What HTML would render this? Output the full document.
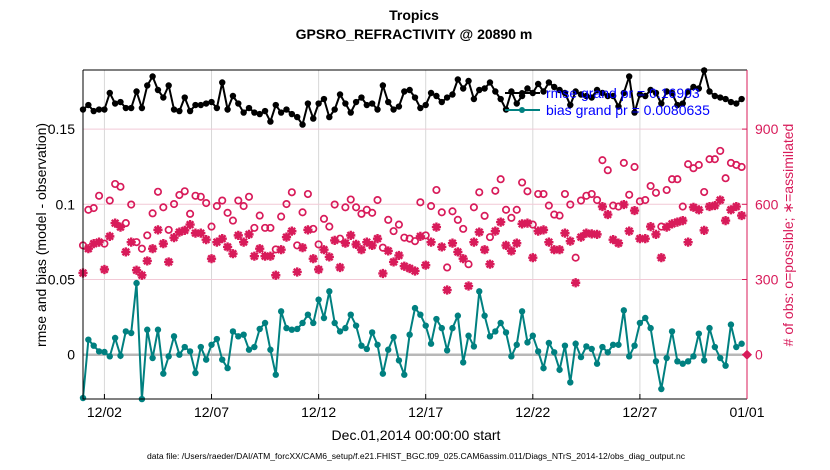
<!DOCTYPE html>
<html><head><meta charset="utf-8"><style>
body{margin:0;background:#fff;}
svg{display:block;font-family:"Liberation Sans",sans-serif;}
</style></head><body>
<svg id="chart" width="830" height="470" viewBox="0 0 830 470" xmlns="http://www.w3.org/2000/svg">
<text x="414" y="20" text-anchor="middle" font-weight="bold" font-size="14">Tropics</text>
<text x="414" y="39" text-anchor="middle" font-weight="bold" font-size="14">GPSRO_REFRACTIVITY @ 20890 m</text>
<g id="grid"></g>
<g id="marks"></g>
<g id="axes"></g>
<text transform="translate(46,235) rotate(-90)" text-anchor="middle" font-size="14">rmse and bias (model - observation)</text>
<text transform="translate(793,235) rotate(-90)" text-anchor="middle" font-size="14" fill="#d81b5a"># of obs: o=possible; ∗=assimilated</text>
<text x="416" y="440" text-anchor="middle" font-size="14">Dec.01,2014 00:00:00 start</text>
<text x="416" y="459" text-anchor="middle" font-size="8.6" textLength="538" lengthAdjust="spacingAndGlyphs">data file: /Users/raeder/DAI/ATM_forcXX/CAM6_setup/f.e21.FHIST_BGC.f09_025.CAM6assim.011/Diags_NTrS_2014-12/obs_diag_output.nc</text>
<g>
<line x1="505" y1="93" x2="540" y2="93" stroke="#000" stroke-width="2"/>
<circle cx="522" cy="93" r="3" fill="#000"/>
<line x1="505" y1="110" x2="540" y2="110" stroke="#008080" stroke-width="2"/>
<circle cx="522" cy="110" r="3" fill="#008080"/>
<text x="546" y="98" font-size="14" fill="#0000ff">rmse grand pr = 0.16903</text>
<text x="546" y="115" font-size="14" fill="#0000ff">bias grand pr = 0.0080635</text>
</g>
</svg>
<script>
const rmse=[0.163,0.166,0.162,0.163,0.163,0.174,0.167,0.168,0.164,0.164,0.175,0.164,0.179,0.185,0.176,0.171,0.179,0.163,0.162,0.171,0.162,0.166,0.166,0.167,0.168,0.164,0.181,0.163,0.172,0.167,0.161,0.164,0.161,0.160,0.162,0.155,0.166,0.161,0.163,0.160,
0.158,0.153,0.167,0.157,0.167,0.170,0.158,0.163,0.173,0.167,0.161,0.168,0.171,0.166,0.167,0.163,0.179,0.168,0.163,0.165,0.175,0.176,0.171,0.164,0.166,0.174,0.172,0.168,0.171,0.173,0.183,0.177,0.182,0.170,0.176,0.177,0.181,0.175,0.170,0.163,0.175,0.167,
0.172,0.177,0.174,0.180,0.175,0.181,0.178,0.176,0.174,0.166,0.175,0.173,0.172,0.171,0.176,0.174,0.172,0.172,0.165,0.174,0.185,0.161,0.173,0.172,0.176,0.174,0.167,0.175,0.174,0.166,0.167,0.175,0.178,0.177,0.189,0.175,0.172,0.171,0.170,0.168,0.167,0.170];
const bias=[-0.0288,0.0100,0.0060,0.0022,0.0018,-0.0011,0.0111,-0.0007,0.0155,0.0144,0.0476,-0.0295,0.0166,-0.0022,0.0166,-0.0126,-0.0011,0.0122,0,0.0051,0.0022,-0.0122,0.0051,-0.0033,0.0066,0.0104,-0.0033,-0.0089,0.0155,0.0122,0.0133,0.0033,0.0051,0.0171,0.0211,0.0033,-0.0133,0.0288,0.0177,0.0166,
0.0171,0.0211,0.0266,0.0211,0.0366,0.0244,0.0421,0.0211,0.0155,0.0177,0.0266,0.0193,0.0060,0.0038,0.0148,0.0066,-0.0126,0.0033,0.0117,-0.0038,-0.0133,0.0133,0.0310,0.0266,0.0193,0.0073,0.0237,0.0177,0.0029,0.0177,0.0259,-0.0051,0.0126,0.0055,0.0421,0.0259,0.0122,0.0155,0.0211,0.0148,-0.0011,0.0066,
0.0288,0.0082,0.0126,0.0022,-0.0089,0.0078,0.0016,-0.0100,0.0060,-0.0184,0.0073,-0.0016,0.0055,0.0038,-0.0060,0.0051,0.0016,0.0066,0.0066,0.0295,-0.0011,0.0060,0.0211,0.0244,0.0177,-0.0044,-0.0228,-0.0022,0.0155,-0.0044,-0.0060,-0.0044,-0.0011,0.0140,-0.0038,0.0177,0.0051,-0.0022,-0.0073,0.0200,0.0051,0.0073];
const nPossible=[436,578,585,634,443,615,681,670,525,599,449,423,476,564,650,588,498,601,637,652,562,634,630,605,511,593,615,566,535,615,593,630,506,555,506,506,420,551,601,648,
436,568,641,502,440,542,511,599,463,588,619,588,562,578,566,617,427,538,493,519,467,463,453,608,476,593,657,568,348,572,538,502,361,588,648,554,469,654,700,578,546,578,
687,652,519,641,641,595,559,555,641,599,387,615,634,641,617,776,736,595,591,765,638,749,612,617,673,646,511,657,700,700,591,760,744,757,649,780,780,813,704,765,757,749];
const nAssim=[326,423,443,449,340,472,525,509,410,449,337,317,374,423,498,443,370,467,489,496,519,485,485,459,383,449,463,430,403,476,449,480,393,423,393,393,317,419,469,493,
330,427,498,383,340,419,390,456,348,445,476,440,419,449,436,463,324,414,370,396,353,344,334,472,357,449,509,430,258,445,410,383,274,449,489,419,361,493,529,436,414,445,
522,525,387,493,498,449,419,419,485,453,287,469,485,482,480,591,559,459,445,599,493,575,463,463,511,480,387,509,522,529,535,449,588,578,496,591,595,617,535,578,591,555];
const xTickLabels=["12/02","12/07","12/12","12/17","12/22","12/27","01/01"];
const xTickDays=[1,6,11,16,21,26,31];
const yLeftTicks=[0,0.05,0.1,0.15];
const yLeftLabels=["0","0.05","0.1","0.15"];
const yRightTicks=[0,300,600,900];

const NS="http://www.w3.org/2000/svg";
const L=83,R=747,T=70,B=399;
const dayPx=(R-L)/31;
const xDay=d=>L+d*dayPx;
const xIdx=i=>xDay(i*0.25);
const yL=v=>354.7-(v/0.05)*75.2;
const yR=c=>354.7-(c/300)*75.2;
const RED="#d81b5a",TEAL="#008080";
function mk(tag,attrs,parent){const e=document.createElementNS(NS,tag);for(const k in attrs)e.setAttribute(k,attrs[k]);parent.appendChild(e);return e;}
const grid=document.getElementById('grid'),marks=document.getElementById('marks'),axes=document.getElementById('axes');

xTickDays.forEach((d,i)=>{
  const x=xDay(d);
  if(d<31){const g=mk('line',{x1:x,y1:T,x2:x,y2:B,stroke:'#d8d8d8','stroke-width':1},grid);
  
  }
  const t=mk('text',{x:x,y:417,'text-anchor':'middle','font-size':14},axes);
  t.textContent=xTickLabels[i];
  
  
  const tk=mk('line',{x1:x,y1:B,x2:x,y2:B-5,stroke:'#000'},axes);
  
  
});
yLeftTicks.forEach((v,i)=>{
  const y=yL(v);
  if(v!==0){const g=mk('line',{x1:L,y1:y,x2:R,y2:y,stroke:'#f2c9d6','stroke-width':1},grid);
  
  }
  const t=mk('text',{x:L-8,y:y+5,'text-anchor':'end','font-size':14},axes);
  t.textContent=yLeftLabels[i];
  
  
});
yRightTicks.forEach(c=>{
  const y=yR(c);
  const t=mk('text',{x:R+8,y:y+5,'text-anchor':'start','font-size':14,fill:RED},axes);
  t.textContent=String(c);
  
  
  const tk=mk('line',{x1:R,y1:y,x2:R-5,y2:y,stroke:RED},axes);
  
  
});
const zl=mk('line',{x1:L,y1:yL(0),x2:R,y2:yL(0),stroke:'#b8b8b8','stroke-width':2.5},grid);



nPossible.forEach((c,i)=>{
  const e=mk('circle',{cx:xIdx(i),cy:yR(c),r:3.2,fill:'none',stroke:RED,'stroke-width':1.7},marks);
  
  
});
nAssim.forEach((c,i)=>{
  const x=xIdx(i),y=yR(c),s=4.6;
  const d=`M${x-s},${y}H${x+s}M${x},${y-s}V${y+s}M${x-s*0.72},${y-s*0.72}L${x+s*0.72},${y+s*0.72}M${x-s*0.72},${y+s*0.72}L${x+s*0.72},${y-s*0.72}`;
  const e=mk('path',{d:d,stroke:RED,'stroke-width':2.4,fill:'none'},marks);
  
  
});
function series(arr,color,name){
  const pts=arr.map((v,i)=>xIdx(i).toFixed(1)+','+yL(v).toFixed(1)).join(' ');
  const pl=mk('polyline',{points:pts,fill:'none',stroke:color,'stroke-width':2},marks);
  
  
  arr.forEach((v,i)=>{
    const c=mk('circle',{cx:xIdx(i),cy:yL(v),r:3.2,fill:color},marks);
    
    
  });
}
series(bias,TEAL,'bias');
series(rmse,'#000','rmse');
const dm=mk('path',{d:`M${R},${yR(0)-5}L${R+5},${yR(0)}L${R},${yR(0)+5}L${R-5},${yR(0)}Z`,fill:RED},marks);



const fr1=mk('path',{d:`M${L},${T}H${R}M${L},${T}V${B}H${R}`,stroke:'#000','stroke-width':1,fill:'none'},axes);


const fr2=mk('line',{x1:R,y1:T,x2:R,y2:B,stroke:RED,'stroke-width':1},axes);


</script>
</body></html>
